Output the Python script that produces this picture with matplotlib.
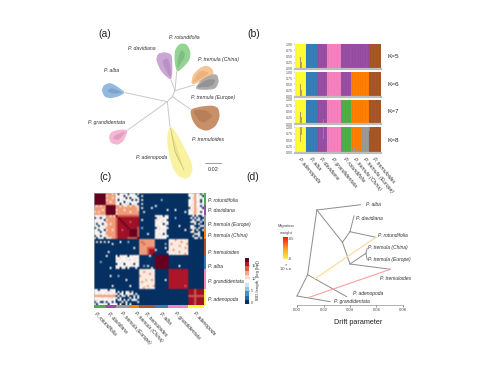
import numpy as np
import matplotlib
matplotlib.use("Agg")
import matplotlib.pyplot as plt
from matplotlib.patches import Polygon
from matplotlib.colors import Normalize, LinearSegmentedColormap
from matplotlib.cm import ScalarMappable

plt.rcParams['font.family'] = ['Liberation Sans', 'DejaVu Sans']
W, H = 500, 375
fig = plt.figure(figsize=(5, 3.75), dpi=100)
TXT = '#333333'

def axpx(x0, y0, x1, y1):
    return fig.add_axes([x0 / W, 1 - y1 / H, (x1 - x0) / W, (y1 - y0) / H])

for s, x, y in [('(a)', 105, 34), ('(b)', 254, 34), ('(c)', 105, 177), ('(d)', 253, 177)]:
    fig.text(x / W, 1 - y / H, s, fontsize=7.5, ha='center', va='center', color='#222222')

# ---------- (a) unrooted tree ----------
tree_edges = [
    ((322, 245), (195, 218)), ((322, 245), (203, 330)), ((322, 245), (330, 320)),
    ((322, 245), (337, 230)), ((337, 230), (345, 212)), ((345, 212), (333, 180)),
    ((345, 212), (350, 155)), ((345, 212), (403, 195)), ((337, 230), (392, 268)),
]
leaf_names = ['P. rotundifolia', 'P. davidiana', 'P. tremula (China)', 'P. tremula (Europe)',
              'P. tremuloides', 'P. alba', 'P. grandidentata', 'P. adenopoda']
leaf_label_x = [374, 245, 475, 460, 445, 155, 138, 275]
leaf_label_y = [54, 86, 120, 233, 358, 152, 308, 414]
leaf_colors = ['#8fd08f', '#c9a0d4', '#f6c08c', '#a8a8a8', '#c48a60', '#8db5de', '#f3b3d0', '#f8f29c']
leaf_dark = ['#5fa565', '#9d73a8', '#dc9c62', '#6f6f6f', '#a36a44', '#5b85ad', '#c17f9f', '#d8d170']
leaf_outline = [
    [(350, 158), (343, 120), (345, 88), (360, 70), (380, 72), (392, 95), (389, 120), (370, 142)],
    [(333, 182), (303, 155), (288, 120), (293, 101), (315, 96), (335, 103), (337, 130), (337, 160)],
    [(393, 196), (398, 165), (420, 143), (440, 136), (457, 146), (462, 165), (430, 182)],
    [(403, 207), (425, 178), (455, 163), (472, 163), (477, 185), (467, 207), (435, 210)],
    [(390, 268), (420, 260), (455, 256), (475, 263), (480, 290), (467, 320), (440, 334), (413, 324), (396, 300)],
    [(197, 218), (170, 198), (150, 188), (131, 195), (125, 212), (133, 230), (150, 235), (175, 230)],
    [(205, 330), (180, 328), (153, 336), (146, 352), (153, 370), (175, 375), (192, 362)],
    [(330, 318), (320, 350), (326, 400), (338, 445), (358, 472), (385, 477), (399, 450), (392, 420), (367, 370), (342, 328)],
]
leaf_inner = [
    [(350, 150), (355, 110), (365, 88), (378, 105)],
    [(333, 178), (305, 125), (322, 112), (332, 140)],
    [(395, 190), (420, 150), (450, 158), (425, 175)],
    [(405, 203), (440, 178), (468, 178), (455, 200)],
    [(395, 270), (440, 270), (460, 290), (425, 312)],
    [(190, 218), (155, 203), (140, 213), (160, 222)],
    [(200, 332), (165, 345), (158, 355), (175, 362)],
    [(332, 325), (345, 400), (372, 450), (350, 380)],
]

def smooth(pts, n=2):
    p = np.array(pts, float)
    for _ in range(n):
        q = np.roll(p, -1, axis=0)
        p = np.column_stack([0.8 * p + 0.2 * q, 0.2 * p + 0.8 * q]).reshape(-1, 2)
    return p

ax = axpx(60, 20, 270, 180)
ax.set_xlim(0, 630); ax.set_ylim(480, 0); ax.axis('off'); ax.patch.set_alpha(0)
for pts, c in zip(leaf_outline, leaf_colors):
    ax.add_patch(Polygon(smooth(pts), closed=True, fc=c, ec='none', alpha=.95, zorder=2))
for pts, cd in zip(leaf_inner, leaf_dark):
    ax.add_patch(Polygon(smooth(pts, 1), closed=True, fc=cd, ec='none', alpha=.4, zorder=3))
for a, b in tree_edges:
    ax.plot([a[0], b[0]], [a[1], b[1]], color='#c9c9c9', lw=.7, zorder=1)
ax.plot([332, 345, 372], [325, 395, 450], color='#b5b36a', lw=.4, zorder=4)
for n, x, y in zip(leaf_names, leaf_label_x, leaf_label_y):
    ax.text(x, y, n, fontsize=3.7, style='italic', ha='center', va='center', color=TXT)
ax.plot([435, 482], [430, 430], color='#777777', lw=.5)
ax.text(460, 449, '0.02', fontsize=4, ha='center', va='center', color=TXT)

# ---------- (b) admixture bars ----------
k_groups = ['P. adenopoda', 'P. alba', 'P. davidiana', 'P. grandidentata',
            'P. rotundifolia', 'P. tremula (China)', 'P. tremula (Europe)', 'P. tremuloides']
n_samples = [11, 12, 10, 14, 10, 11, 8, 12]
YEL, BLU, PUR, PIN, GRN, ORA, GRY, BRO = ('#ffff33', '#377eb8', '#984ea3', '#f781bf',
                                          '#4daf4a', '#ff7f00', '#999999', '#a65628')
k_main = {
    'K=5': [YEL, BLU, PUR, PIN, PUR, PUR, PUR, BRO],
    'K=6': [YEL, BLU, PUR, PIN, PUR, ORA, ORA, BRO],
    'K=7': [YEL, BLU, PUR, PIN, GRN, ORA, ORA, BRO],
    'K=8': [YEL, BLU, PUR, PIN, GRN, ORA, GRY, BRO],
}
# group, sample, colour, lower, upper
k_minor = {
    'K=5': [(0, 5, '#b39a5a', 0, .50), (0, 6, '#c9a35a', 0, .27)],
    'K=6': [(0, 5, '#b39a5a', 0, .50), (0, 6, '#c9a35a', 0, .27)],
    'K=7': [(0, 5, '#b39a5a', 0, .50), (0, 6, '#a8b05a', 0, .27), (2, 6, '#70a060', 0, .20)],
    'K=8': [(0, 5, '#c8a050', .45, 1), (0, 6, '#90c050', .70, 1), (2, 6, '#70a060', .55, 1),
            (5, 1, GRY, 0, .10), (5, 3, GRY, 0, .22), (5, 4, GRY, 0, .25),
            (5, 7, GRY, 0, .14), (7, 0, '#b08060', .85, 1)],
}
row_px = [(44, 69), (72, 96.5), (99.5, 124), (127.5, 153)]
starts = np.concatenate([[0], np.cumsum(n_samples)])
for i, ((k, mains), (y0, y1)) in enumerate(zip(k_main.items(), row_px)):
    a = axpx(295, y0, 381, y1)
    for g, c in enumerate(mains):
        a.bar(starts[g] + np.arange(n_samples[g]) + .5, 1, width=1, color=c, lw=0)
        # faint sample separators
        a.vlines(starts[g] + np.arange(1, n_samples[g], 3), 0, 1, color='black', alpha=.05, lw=.4)
    for g, s, c, lo, hi in k_minor[k]:
        a.bar(starts[g] + s + .5, hi - lo, width=1, bottom=lo, color=c, lw=0)
    a.set_xlim(0, sum(n_samples)); a.set_ylim(0, 1)
    a.set_yticks([0, .25, .5, .75, 1]); a.set_yticklabels(['0.00', '0.25', '0.50', '0.75', '1.00'])
    a.tick_params(axis='y', labelsize=2.6, length=1, width=.3, pad=.6, colors='#555555')
    for sp in a.spines.values():
        sp.set_visible(False)
    a.spines['bottom'].set_visible(True); a.spines['bottom'].set_color('#bdbdbd'); a.spines['bottom'].set_linewidth(1.6)
    fig.text(393 / W, 1 - (y0 + y1) / 2 / H, k, fontsize=4.6, ha='center', va='center', color='#222222')
    if i == 3:
        a.set_xticks(starts[:-1] + np.array(n_samples) / 2)
        a.set_xticklabels(k_groups, rotation=-50, ha='left', va='top', rotation_mode='anchor',
                          fontsize=3.7, style='italic', color=TXT)
        a.tick_params(axis='x', length=0, pad=2.5)
    else:
        a.set_xticks([])

# ---------- (c) IBD heat map ----------
hm_groups = ['P. rotundifolia', 'P. davidiana', 'P. tremula (Europe)', 'P. tremula (China)',
             'P. tremuloides', 'P. alba', 'P. grandidentata', 'P. adenopoda']
hm_sizes = [6, 5, 7, 5, 8, 7, 10, 8]
hm_strip = ['#4daf4a', '#984ea3', '#999999', '#ff7f00', '#a65628', '#377eb8', '#f781bf', '#ffff33']
LEVEL = {'.': 0, 'b': 5, 'w': 9, 'p': 10.5, 's': 12.8, 'o': 14.5, 'r': 16.6, 'c': 16.3, 'd': 18}

block_rot_rot = ['dddddd'] * 6
block_dav_dav = ['ddddd'] * 5
block_alb_alb = ['ddddddd'] * 7
block_gra_gra = ['cccccccccc'] * 8 + ['ccccccccoc', 'cccccccccc']
block_ade_ade = ['rrrorrrr', 'rrrorrrr', 'rrrorrrr', 'oooooooo', 'rrrorrrr', 'rrrorrrr', 'rrrorrrr', 'rrrorrrr']
block_rot_dav = ['sssps', 'pssss', 'sssps', 'pssss', 'sspss', 'sssss']
block_rot_tre12 = ['w.wwww.wpw.w', 'wwwp.wpwwww.', 'wpwww.w.wpww', 'w.wpwwww.w.w', 'pwww.wpwwwww', 'ww.wwpw.wpw.']
block_dav_tre12 = ['sspsppspsspp', 'sssssssssssp', 'pssspssssssp', 'ssssssspssss', 'psssssssssss']
block_tre12_tre12 = ['dooooooooooo', 'odrrrrrrrrrr', 'ordrrrrorrrr', 'orrdrrrorrrr', 'orrrdrrorrrr', 'orrrrdrorrrr',
                     'orrrrrdrrrro', 'orrorrrdddro', 'orrrrrrddddo', 'orrrrrrddddo', 'orrrrrrddddo', 'orrrrroooood']
block_tre12_alb = ['wwpw.wp', '.wpwwww', 'wpwwpw.', 'pwwpwwp', 'wwww.pw', 'wpwwwp.', '.wpwwww', 'wwpwpw.',
                   'pwwwwp.', 'wwpw.w.', 'wpwpwww', 'wwwwww.']
block_tre12_ade = ['..w.w..w', '.w.w.w..', '..w.pw.w', '.wwp..w.', '...w.w..', '.ww...wp', '.wpp.w..',
                   '..w.w..w', '.pw..w..', '...wpw..', '..w..w..', '...w..w.']
block_rot_ade = ['wwpsww.w', 'wwwswpw.', '.wpswwww', 'wwpsww.w', 'wwwspw.w', 'wwpswwwp']
block_dav_ade = ['wpwsww.w', '.wpspww.', 'wpwspwww', 'wwpspw.w', 'wwpswwww']
block_tre_tre = ['sssssssp', 'sosssssp', 'ssosssss', 'ssssosss', 'ssssoooo', 'ssssorrr', 'ssssorrr', 'ssssorrd']
block_tre_gra = ['pwpspwpwpw', 'wpwpwpspwp', 'pspwpwpwps', 'wpwpwspwpw', 'pwpwpwpwsp', 'wpspwpwpwp', 'pwpwpspwpw', 'wpwpwpwpsw']

blocks = {
    (0, 0): block_rot_rot, (1, 1): block_dav_dav, (5, 5): block_alb_alb, (6, 6): block_gra_gra,
    (7, 7): block_ade_ade, (0, 1): block_rot_dav, (4, 4): block_tre_tre, (4, 6): block_tre_gra,
}
# sparse isolated cells: row, column, level
sparse_cells = [(1, 24, 'p'), (3, 24, 'w'), (5, 24, 'p'), (7, 24, 'w'), (9, 25, 'p'), (7, 29, 'w'), (6, 31, 'w'),
                (8, 37, 'w'), (8, 41, 'w'), (9, 46, 'w'), (3, 34, 'b'), (13, 24, 'w'), (17, 24, 'b'), (20, 27, 'w'),
                (25, 36, 'b'), (27, 36, 'w'), (29, 37, 'w'), (28, 31, 'w'), (12, 41, 'b'), (16, 43, 'w'), (18, 46, 'w'),
                (36, 43, 'w'), (30, 44, 'w'), (22, 52, 'w')]
edges = np.concatenate([[0], np.cumsum(hm_sizes)])
N = edges[-1]
M = np.zeros((N, N))

def put(r, c, rows):
    for i, row in enumerate(rows):
        for j, ch in enumerate(row):
            M[r + i, c + j] = M[c + j, r + i] = LEVEL[ch]

for (g1, g2), rows in blocks.items():
    put(edges[g1], edges[g2], rows)
put(edges[0], edges[2], block_rot_tre12)
put(edges[1], edges[2], block_dav_tre12)
put(edges[2], edges[2], block_tre12_tre12)
put(edges[2], edges[5], block_tre12_alb)
put(edges[2], edges[7], block_tre12_ade)
put(edges[0], edges[7], block_rot_ade)
put(edges[1], edges[7], block_dav_ade)
for r, c, ch in sparse_cells:
    M[r, c] = M[c, r] = LEVEL[ch]

cmap = plt.get_cmap('RdBu_r')
hm = axpx(94, 193, 203.5, 305)
hm.imshow(M, cmap=cmap, vmin=0, vmax=18, aspect='auto', interpolation='bilinear')
hm.set_xticks([]); hm.set_yticks([])
for sp in hm.spines.values():
    sp.set_color('#bbbbbb'); sp.set_linewidth(.4)
st_b = axpx(94, 305, 203.5, 308)
st_r = axpx(203.5, 193, 206, 305)
for g, c in enumerate(hm_strip):
    st_b.barh(0, hm_sizes[g], left=edges[g], color=c, height=1, lw=0)
    st_r.bar(0, hm_sizes[g], bottom=edges[g], color=c, width=1, lw=0)
st_b.set_xlim(0, N); st_b.set_ylim(-.5, .5); st_b.axis('off')
st_r.set_ylim(N, 0); st_r.set_xlim(-.5, .5); st_r.axis('off')
hm_label_y = [200, 211, 224, 236, 252, 266, 282, 300]
hm_label_bx = [97, 110, 123, 137, 147, 162, 177, 196]
for n, y, x in zip(hm_groups, hm_label_y, hm_label_bx):
    fig.text(208 / W, 1 - y / H, n, fontsize=3.6, style='italic', va='center', ha='left', color=TXT)
    fig.text(x / W, 1 - 311 / H, n, fontsize=3.6, style='italic', va='top', ha='left', color=TXT,
             rotation=-47, rotation_mode='anchor')
cax = axpx(245, 258, 249, 304)
cb = fig.colorbar(ScalarMappable(Normalize(-.4, 18), cmap.resampled(11)), cax=cax)
cb.set_ticks([0, 5, 10, 15]); cb.ax.tick_params(labelsize=2.8, length=.8, width=.3, pad=.8, colors='#444444')
cb.outline.set_visible(False)
fig.text(258 / W, 1 - 280 / H, 'IBD length, (log [bp])', rotation=90, fontsize=3.2, ha='center', va='center', color=TXT)

# ---------- (d) migration tree ----------
node = dict(root=(0, 296), A=(.008, 274.7), B=(.015, 210), C=(.0343, 242.3), D=(.040, 231.7), E=(.040, 264),
            F=(.052, 253.3), alba=(.048, 204.7), dav=(.043, 216), rot=(.0595, 237.3), chi=(.053, 248.3),
            eur=(.053, 259.7), tre=(.0705, 269.3), ade=(.0375, 296.7), gra=(.025, 301.7))
edge_list = [('root', 'A'), ('A', 'B'), ('B', 'alba'), ('B', 'C'), ('C', 'D'), ('D', 'dav'), ('D', 'rot'),
             ('C', 'E'), ('E', 'F'), ('F', 'chi'), ('F', 'eur'), ('E', 'tre'), ('A', 'ade'), ('root', 'gra')]
mig_x = [[.0133, .0595], [.0088, .0705]]
mig_y = [[279, 237.3], [297.5, 269.3]]
mig_c = ['#ffd993', '#ff9f9f']
drift_names = ['P. alba', 'P. davidiana', 'P. rotundifolia', 'P. tremula (China)', 'P. tremula (Europe)',
               'P. tremuloides', 'P. adenopoda', 'P. grandidentata']
drift_x = [.052, .0443, .0615, .0535, .0535, .0630, .0420, .0280]
drift_y = [204.7, 218, 235.5, 247.5, 259.5, 278.5, 294, 301.7]
d = axpx(297, 195, 403, 305)
d.patch.set_alpha(0)
d.set_xlim(0, .08); d.set_ylim(305, 195)
for x, y, c in zip(mig_x, mig_y, mig_c):
    d.plot(x, y, color=c, lw=.8, zorder=3)
for a, b in edge_list:
    d.plot([node[a][0], node[b][0]], [node[a][1], node[b][1]], color='#8c8c8c', lw=.7, zorder=2, clip_on=False)
for n, x, y in zip(drift_names, drift_x, drift_y):
    d.text(x, y, n, fontsize=3.6, style='italic', va='center', ha='left', color=TXT, clip_on=False)
for sp in ['top', 'left', 'right']:
    d.spines[sp].set_visible(False)
d.spines['bottom'].set_color('#777777'); d.spines['bottom'].set_linewidth(.4)
d.set_yticks([]); d.set_xticks([0, .02, .04, .06, .08])
d.set_xticklabels(['0.00', '0.02', '0.04', '0.06', '0.08'])
d.tick_params(axis='x', labelsize=3, length=1.5, width=.4, pad=1, colors='#444444')
fig.text(358.5 / W, 1 - 322 / H, 'Drift parameter', fontsize=5.2, ha='center', va='center', color='#222222')
# migration weight legend
mig_cmap = LinearSegmentedColormap.from_list('mig', ['#ffee44', '#ff9922', '#ff1111'])
lax = axpx(283, 237, 287.5, 259)
fig.colorbar(ScalarMappable(Normalize(0, .55), mig_cmap), cax=lax)
lax.set_yticks([0, .5]); lax.set_yticklabels(['0', '0.5'])
lax.tick_params(labelsize=2.8, length=.6, width=.3, pad=.6, colors='#444444')
for sp in lax.spines.values():
    sp.set_visible(False)
for s, y in [('Migration', 226), ('weight', 233), ('×', 264), ('10 s.e.', 269)]:
    fig.text(286 / W, 1 - y / H, s, fontsize=3, ha='center', va='center', color='#444444')

fig.savefig('out.png', dpi=100)
